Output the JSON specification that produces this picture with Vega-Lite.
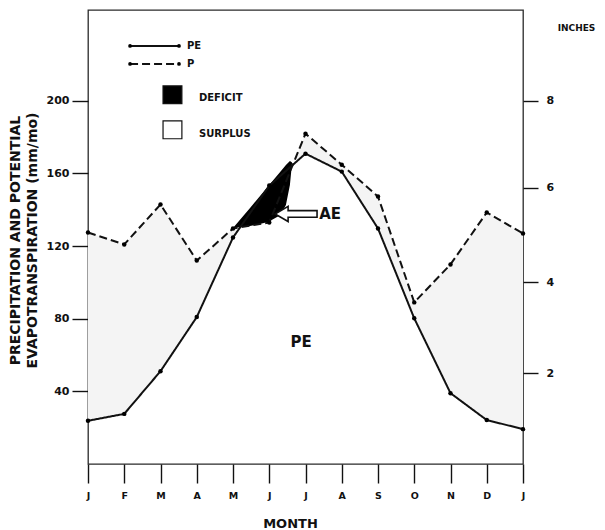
{
  "$schema": "https://vega.github.io/schema/vega-lite/v6.json",
  "width": 435,
  "height": 454,
  "autosize": {"type": "none"},
  "padding": {"left": 88, "top": 10, "right": 82, "bottom": 66},
  "background": "white",
  "config": {
    "view": {"stroke": "#2a2a2a", "strokeWidth": 1.3},
    "font": "DejaVu Sans",
    "axis": {
      "grid": false,
      "domain": false,
      "tickColor": "#111",
      "tickWidth": 1.4,
      "labelColor": "#111",
      "titleColor": "#111",
      "labelFont": "DejaVu Sans",
      "titleFont": "DejaVu Sans",
      "labelFontWeight": "bold",
      "titleFontWeight": "bold"
    }
  },
  "datasets": {
    "main": [
      {"m": 0, "s": "PE", "v": 23.8}, {"m": 1, "s": "PE", "v": 27.6}, {"m": 2, "s": "PE", "v": 51.1},
      {"m": 3, "s": "PE", "v": 80.9}, {"m": 4, "s": "PE", "v": 124.7}, {"m": 5, "s": "PE", "v": 153.3},
      {"m": 6, "s": "PE", "v": 170.9}, {"m": 7, "s": "PE", "v": 161}, {"m": 8, "s": "PE", "v": 129.7},
      {"m": 9, "s": "PE", "v": 80.2}, {"m": 10, "s": "PE", "v": 39}, {"m": 11, "s": "PE", "v": 24.2},
      {"m": 12, "s": "PE", "v": 19.2},
      {"m": 0, "s": "P", "v": 127.5}, {"m": 1, "s": "P", "v": 120.9}, {"m": 2, "s": "P", "v": 142.9},
      {"m": 3, "s": "P", "v": 112}, {"m": 4, "s": "P", "v": 129.7}, {"m": 5, "s": "P", "v": 133},
      {"m": 6, "s": "P", "v": 181.9}, {"m": 7, "s": "P", "v": 164.8}, {"m": 8, "s": "P", "v": 147.3},
      {"m": 9, "s": "P", "v": 89}, {"m": 10, "s": "P", "v": 109.9}, {"m": 11, "s": "P", "v": 138.5},
      {"m": 12, "s": "P", "v": 126.9}
    ],
    "deficit": [
      {"m": 4.0, "lo": 130, "hi": 130},
      {"m": 4.47, "lo": 131, "hi": 141},
      {"m": 4.97, "lo": 133.3, "hi": 153},
      {"m": 5.3, "lo": 137, "hi": 160.8},
      {"m": 5.46, "lo": 142.6, "hi": 164.6},
      {"m": 5.57, "lo": 153.6, "hi": 166.8},
      {"m": 5.63, "lo": 166, "hi": 166}
    ],
    "legline": [
      {"s": "PE", "m": 1.16, "v": 230.2}, {"s": "PE", "m": 2.51, "v": 230.2},
      {"s": "P", "m": 1.16, "v": 220.3}, {"s": "P", "m": 2.51, "v": 220.3}
    ],
    "legbox": [
      {"k": "DEFICIT", "m1": 2.07, "m2": 2.59, "v1": 198.4, "v2": 208.2},
      {"k": "SURPLUS", "m1": 2.07, "m2": 2.59, "v1": 179.1, "v2": 189}
    ],
    "legtext": [
      {"t": "PE", "m": 2.73, "v": 230.2},
      {"t": "P", "m": 2.73, "v": 220.3},
      {"t": "DEFICIT", "m": 3.06, "v": 201.6},
      {"t": "SURPLUS", "m": 3.06, "v": 181.9}
    ],
    "notes": [
      {"t": "PE", "m": 5.88, "v": 67.2},
      {"t": "AE", "m": 6.68, "v": 137.4}
    ],
    "arrow": [
      {"m": 5.74, "v": 137.7}
    ]
  },
  "resolve": {"axis": {"x": "independent", "y": "independent"}},
  "layer": [
    {
      "data": {"name": "main"},
      "transform": [{"pivot": "s", "value": "v", "groupby": ["m"]}],
      "mark": {"type": "area", "color": "#f4f4f4"},
      "encoding": {
        "x": {"field": "m", "type": "quantitative", "scale": {"domain": [0, 12], "nice": false, "zero": false}, "axis": null},
        "y": {"field": "P", "type": "quantitative", "scale": {"domain": [0, 250], "nice": false}, "axis": null},
        "y2": {"field": "PE"}
      }
    },
    {
      "data": {"name": "deficit"},
      "mark": {"type": "area", "color": "#000000"},
      "encoding": {
        "x": {"field": "m", "type": "quantitative", "scale": {"domain": [0, 12], "nice": false, "zero": false}, "axis": null},
        "y": {"field": "lo", "type": "quantitative", "scale": {"domain": [0, 250], "nice": false}, "axis": null},
        "y2": {"field": "hi"}
      }
    },
    {
      "data": {"name": "main"},
      "mark": {"type": "line", "color": "#111", "strokeWidth": 2},
      "encoding": {
        "x": {
          "field": "m", "type": "quantitative",
          "scale": {"domain": [0, 12], "nice": false, "zero": false},
          "axis": {
            "values": [0, 1, 2, 3, 4, 5, 6, 7, 8, 9, 10, 11, 12],
            "labelExpr": "['J','F','M','A','M','J','J','A','S','O','N','D','J'][datum.value]",
            "tickSize": 19,
            "labelPadding": 7,
            "labelFontSize": 9.5,
            "labelFlush": false,
            "title": "MONTH",
            "titleFontSize": 13,
            "titleX": 202,
            "titleY": 59,
            "titleAlign": "center",
            "titleBaseline": "middle"
          }
        },
        "y": {
          "field": "v", "type": "quantitative",
          "scale": {"domain": [0, 250], "nice": false},
          "axis": {
            "orient": "left",
            "values": [40, 80, 120, 160, 200],
            "tickSize": 16,
            "labelPadding": 3,
            "labelFontSize": 11,
            "title": ["PRECIPITATION AND POTENTIAL", "EVAPOTRANSPIRATION (mm/mo)"],
            "titleFontSize": 14,
            "titleLineHeight": 17,
            "titleAngle": -90,
            "titleX": -73,
            "titleY": 230,
            "titleAlign": "center",
            "titleBaseline": "middle"
          }
        },
        "detail": {"field": "s"},
        "strokeDash": {"field": "s", "type": "nominal", "scale": {"domain": ["PE", "P"], "range": [[1, 0], [8, 4]]}, "legend": null}
      }
    },
    {
      "data": {"name": "main"},
      "mark": {"type": "point", "filled": true, "color": "#000", "size": 20, "opacity": 1},
      "encoding": {
        "x": {"field": "m", "type": "quantitative", "scale": {"domain": [0, 12], "nice": false, "zero": false}, "axis": null},
        "y": {
          "field": "v", "type": "quantitative",
          "scale": {"domain": [0, 250], "nice": false},
          "axis": {
            "orient": "right",
            "values": [50, 100, 152, 200],
            "labelExpr": "format(round(datum.value / 25.4), 'd')",
            "tickSize": 15,
            "labelPadding": 8,
            "labelFontSize": 11,
            "title": "INCHES",
            "titleFontSize": 9,
            "titleAngle": 0,
            "titleX": 53,
            "titleY": 17,
            "titleAlign": "center",
            "titleBaseline": "middle"
          }
        }
      }
    },
    {
      "data": {"name": "legline"},
      "mark": {"type": "line", "color": "#111", "strokeWidth": 2},
      "encoding": {
        "x": {"field": "m", "type": "quantitative", "scale": {"domain": [0, 12], "nice": false, "zero": false}, "axis": null},
        "y": {"field": "v", "type": "quantitative", "scale": {"domain": [0, 250], "nice": false}, "axis": null},
        "detail": {"field": "s"},
        "strokeDash": {"field": "s", "type": "nominal", "scale": {"domain": ["PE", "P"], "range": [[1, 0], [8, 4]]}, "legend": null}
      }
    },
    {
      "data": {"name": "legline"},
      "mark": {"type": "point", "filled": true, "color": "#000", "size": 14, "opacity": 1},
      "encoding": {
        "x": {"field": "m", "type": "quantitative", "scale": {"domain": [0, 12], "nice": false, "zero": false}, "axis": null},
        "y": {"field": "v", "type": "quantitative", "scale": {"domain": [0, 250], "nice": false}, "axis": null}
      }
    },
    {
      "data": {"name": "legbox"},
      "mark": {"type": "rect", "stroke": "#111", "strokeWidth": 1.2},
      "encoding": {
        "x": {"field": "m1", "type": "quantitative", "scale": {"domain": [0, 12], "nice": false, "zero": false}, "axis": null},
        "x2": {"field": "m2"},
        "y": {"field": "v1", "type": "quantitative", "scale": {"domain": [0, 250], "nice": false}, "axis": null},
        "y2": {"field": "v2"},
        "fill": {"field": "k", "type": "nominal", "scale": {"domain": ["DEFICIT", "SURPLUS"], "range": ["#000000", "#ffffff"]}, "legend": null},
        "strokeDash": {"field": "k", "type": "nominal", "scale": {"domain": ["DEFICIT", "SURPLUS"], "range": [[1, 0], [1.5, 2]]}, "legend": null}
      }
    },
    {
      "data": {"name": "legtext"},
      "mark": {"type": "text", "align": "left", "baseline": "middle", "font": "DejaVu Sans", "fontWeight": "bold", "fontSize": 10, "color": "#111"},
      "encoding": {
        "x": {"field": "m", "type": "quantitative", "scale": {"domain": [0, 12], "nice": false, "zero": false}, "axis": null},
        "y": {"field": "v", "type": "quantitative", "scale": {"domain": [0, 250], "nice": false}, "axis": null},
        "text": {"field": "t"}
      }
    },
    {
      "data": {"name": "notes"},
      "mark": {"type": "text", "align": "center", "baseline": "middle", "font": "DejaVu Sans", "fontWeight": "bold", "fontSize": 15, "color": "#111"},
      "encoding": {
        "x": {"field": "m", "type": "quantitative", "scale": {"domain": [0, 12], "nice": false, "zero": false}, "axis": null},
        "y": {"field": "v", "type": "quantitative", "scale": {"domain": [0, 250], "nice": false}, "axis": null},
        "text": {"field": "t"}
      }
    },
    {
      "data": {"name": "arrow"},
      "mark": {
        "type": "point",
        "shape": "M -1 0 L -0.38 -0.36 L -0.38 -0.16 L 1 -0.16 L 1 0.16 L -0.38 0.16 L -0.38 0.36 Z",
        "size": 1760,
        "filled": false,
        "fill": "#ffffff",
        "fillOpacity": 1,
        "stroke": "#111",
        "strokeWidth": 1.6,
        "opacity": 1
      },
      "encoding": {
        "x": {"field": "m", "type": "quantitative", "scale": {"domain": [0, 12], "nice": false, "zero": false}, "axis": null},
        "y": {"field": "v", "type": "quantitative", "scale": {"domain": [0, 250], "nice": false}, "axis": null}
      }
    }
  ]
}
